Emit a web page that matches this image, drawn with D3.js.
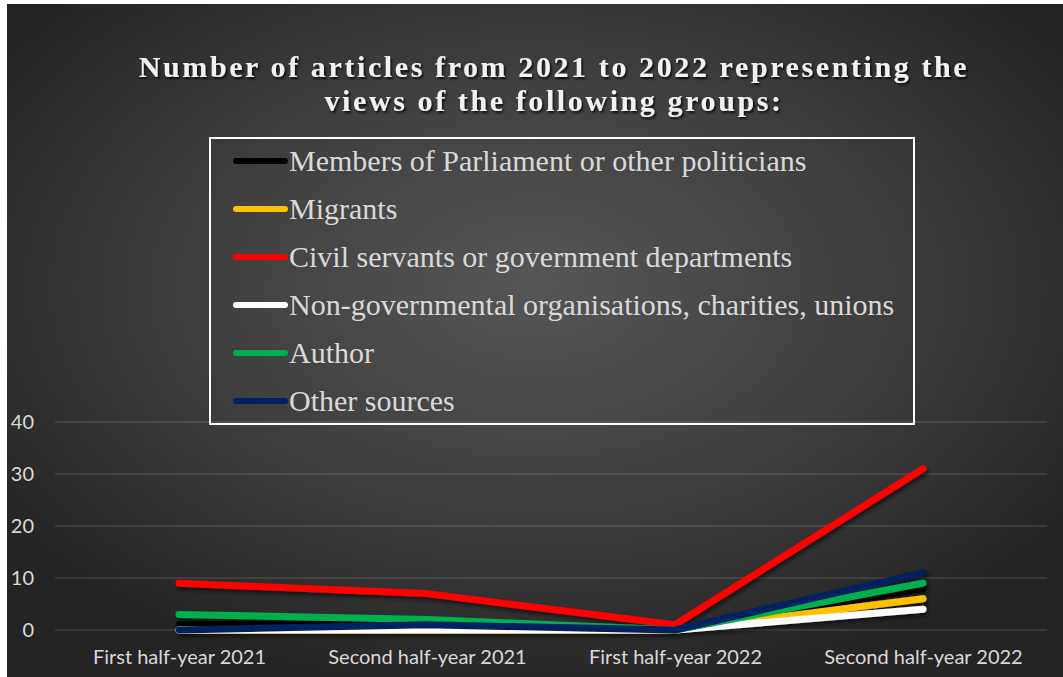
<!DOCTYPE html>
<html>
<head>
<meta charset="utf-8">
<script src="https://cdn.jsdelivr.net/npm/d3@7"></script>
<style>
  html, body { margin: 0; padding: 0; background: #ffffff; }
  svg { display: block; }
</style>
</head>
<body>
<svg id="chart" width="1063" height="677"></svg>
<script>
// Half-year periods on the x axis
const periods = ["First half-year 2021", "Second half-year 2021", "First half-year 2022", "Second half-year 2022"];

// Article counts per group, one value per period
const mps        = [1, 1, 0, 8];
const migrants   = [0, 0, 0, 6];
const civil      = [9, 7, 1, 31];
const ngos       = [0, 0, 0, 4];
const author     = [3, 2, 0, 9];
const otherSrc   = [0, 1, 0, 11];

const groupNames = [
  "Members of Parliament or other politicians",
  "Migrants",
  "Civil servants or government departments",
  "Non-governmental organisations, charities, unions",
  "Author",
  "Other sources"
];
const groupColors = ["#000000", "#FFC000", "#FF0000", "#FFFFFF", "#00B050", "#002060"];
const yTicks = [0, 10, 20, 30, 40];

const titleLines = [
  "Number of articles from 2021 to 2022 representing the",
  "views of the following groups:"
];

const seriesValues = [mps, migrants, civil, ngos, author, otherSrc];
const series = groupNames.map((name, i) => ({
  name,
  color: groupColors[i],
  values: seriesValues[i].map((v, j) => ({ period: periods[j], value: v }))
}));

const W = 1063, H = 677;
const svg = d3.select("#chart");
const defs = svg.append("defs");

// Dark radial backdrop
const grad = defs.append("radialGradient")
  .attr("id", "bg").attr("cx", "0.5").attr("cy", "0.42").attr("r", "0.62");
grad.append("stop").attr("offset", "0").attr("stop-color", "#565656");
grad.append("stop").attr("offset", "0.55").attr("stop-color", "#3d3d3d");
grad.append("stop").attr("offset", "1").attr("stop-color", "#242424");

const lineShadow = defs.append("filter").attr("id", "lineShadow")
  .attr("x", "-10%").attr("y", "-50%").attr("width", "130%").attr("height", "200%");
lineShadow.append("feDropShadow").attr("dx", 2).attr("dy", 3)
  .attr("stdDeviation", 2).attr("flood-color", "#000").attr("flood-opacity", 0.55);

const textShadow = defs.append("filter").attr("id", "textShadow")
  .attr("x", "-5%").attr("y", "-30%").attr("width", "110%").attr("height", "160%");
textShadow.append("feDropShadow").attr("dx", 1.5).attr("dy", 2)
  .attr("stdDeviation", 1.2).attr("flood-color", "#000").attr("flood-opacity", 0.8);

svg.append("rect").attr("x", 7).attr("y", 4).attr("width", W - 7).attr("height", H - 4)
  .attr("fill", "url(#bg)");

// Scales
const x = d3.scalePoint().domain(periods).range([55, 1047]).padding(0.5);
const y = d3.scaleLinear().domain([0, 40]).range([630, 422]);

// Horizontal gridlines
svg.append("g").selectAll("line").data(yTicks).join("line")
  .attr("x1", 55).attr("x2", 1047)
  .attr("y1", d => y(d)).attr("y2", d => y(d))
  .attr("stroke", "rgba(255,255,255,0.13)").attr("stroke-width", 1.5);

// Y axis labels
const yAxis = svg.append("g").attr("transform", "translate(34,0)")
  .call(d3.axisLeft(y).tickValues(yTicks).tickSize(0).tickPadding(0));
yAxis.select(".domain").remove();
yAxis.selectAll("text")
  .attr("fill", "#d9d9d9")
  .style("font-family", "Lato, 'Open Sans', sans-serif")
  .style("font-size", "20px");

// X axis labels
const xAxis = svg.append("g").attr("transform", "translate(0,646)")
  .call(d3.axisBottom(x).tickSize(0).tickPadding(0));
xAxis.select(".domain").remove();
xAxis.selectAll("text")
  .attr("fill", "#d9d9d9")
  .attr("dy", "0.9em")
  .style("font-family", "Lato, 'Open Sans', sans-serif")
  .style("font-size", "20px");

// Series lines
const line = d3.line().x(d => x(d.period)).y(d => y(d.value));
svg.append("g").attr("filter", "url(#lineShadow)")
  .selectAll("path").data(series).join("path")
  .attr("d", d => line(d.values))
  .attr("fill", "none")
  .attr("stroke", d => d.color)
  .attr("stroke-width", 7)
  .attr("stroke-linecap", "round")
  .attr("stroke-linejoin", "round");

// Title
const title = svg.append("g").attr("filter", "url(#textShadow)");
title.selectAll("text").data(titleLines).join("text")
  .attr("x", 554).attr("y", (d, i) => 77 + i * 34)
  .attr("text-anchor", "middle")
  .attr("fill", "#f2f2f2")
  .style("font-family", "'Liberation Serif', 'Times New Roman', serif")
  .style("font-weight", "bold")
  .style("font-size", "30px")
  .style("letter-spacing", "2.6px")
  .text(d => d);

// Legend
const legend = svg.append("g");
legend.append("rect")
  .attr("x", 210).attr("y", 138).attr("width", 704).attr("height", 286)
  .attr("fill", "none").attr("stroke", "#ffffff").attr("stroke-width", 2);
const rows = legend.selectAll("g.row").data(series).join("g")
  .attr("class", "row")
  .attr("transform", (d, i) => `translate(0,${161 + i * 48})`);
rows.append("line")
  .attr("x1", 236).attr("x2", 285).attr("y1", 0).attr("y2", 0)
  .attr("stroke", d => d.color).attr("stroke-width", 6).attr("stroke-linecap", "round");
rows.append("text")
  .attr("x", 289).attr("y", 10)
  .attr("fill", "#d9d9d9")
  .style("font-family", "'Liberation Serif', 'Times New Roman', serif")
  .style("font-size", "30px")
  .text(d => d.name);
</script>
</body>
</html>
